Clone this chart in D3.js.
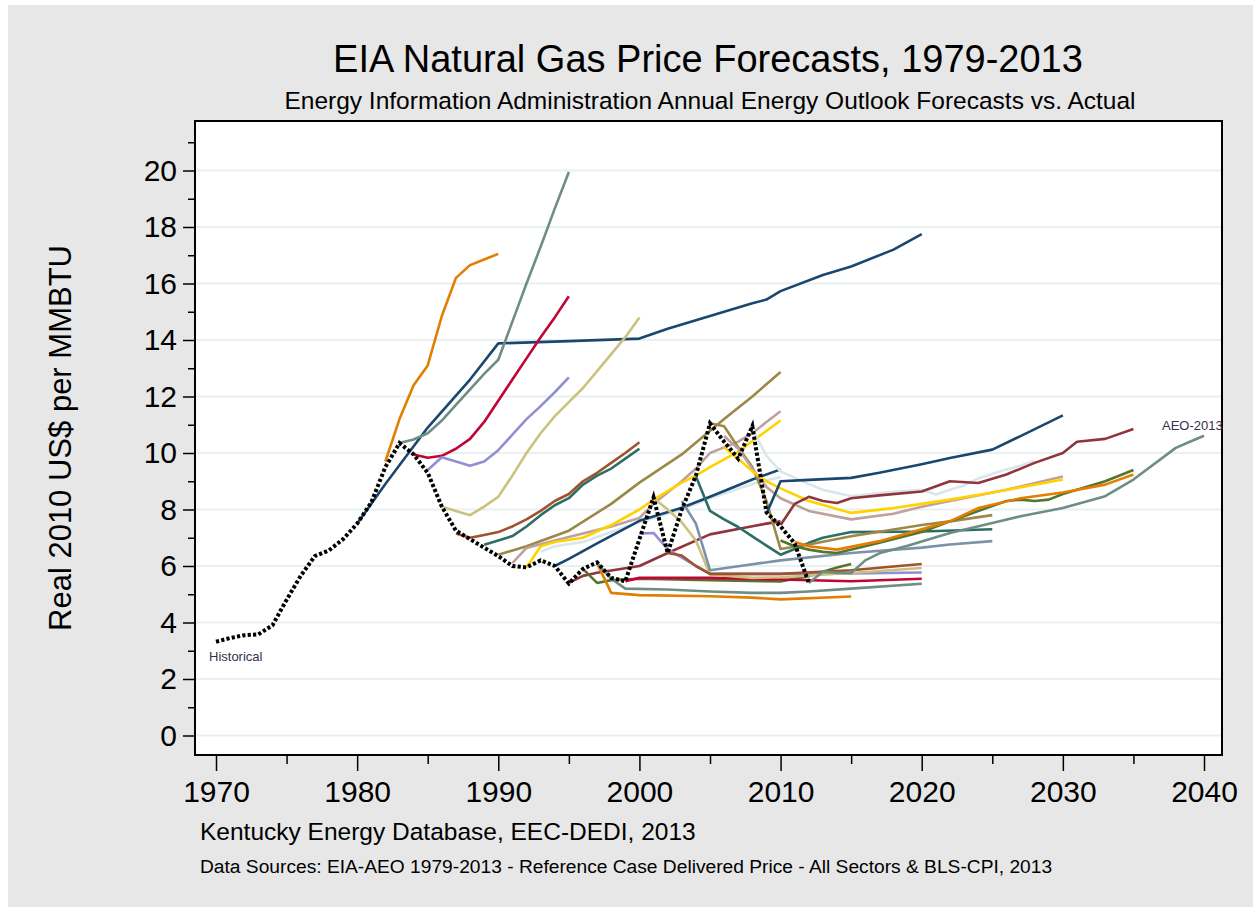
<!DOCTYPE html>
<html>
<head>
<meta charset="utf-8">
<script src="https://cdn.jsdelivr.net/npm/d3@7"></script>
<style>
  html, body { margin: 0; padding: 0; background: #ffffff; }
  svg { display: block; font-family: "Liberation Sans", Arial, sans-serif; }
</style>
</head>
<body>
<svg id="chart" width="1253" height="907"></svg>
<script>
// ---------------- DATA ----------------
const xTicksMajor = [1970, 1980, 1990, 2000, 2010, 2020, 2030, 2040];
const xTicksMinor = [1975, 1985, 1995, 2005, 2015, 2025, 2035];
const yTicksMajor = [0, 2, 4, 6, 8, 10, 12, 14, 16, 18, 20];
const yTicksMinor = [1, 3, 5, 7, 9, 11, 13, 15, 17, 19, 21];

const historical = [[1970,3.32],[1971,3.45],[1972,3.55],[1973,3.58],[1974,3.9],[1975,4.8],[1976,5.65],[1977,6.35],[1978,6.55],[1979,6.95],[1980,7.5],[1981,8.25],[1982,9.5],[1983,10.35],[1984,9.95],[1985,9.3],[1986,8.1],[1987,7.25],[1988,6.95],[1989,6.65],[1990,6.35],[1991,6.0],[1992,5.95],[1993,6.2],[1994,6.0],[1995,5.38],[1996,5.9],[1997,6.13],[1998,5.58],[1999,5.46],[2000,6.95],[2001,8.43],[2002,6.46],[2003,8.0],[2004,9.2],[2005,11.05],[2006,10.4],[2007,9.8],[2008,10.95],[2009,7.9],[2010,7.4],[2011,6.8],[2012,5.4]];

const aeo1979 = [[1980,7.5],[1982,8.9],[1985,10.9],[1988,12.6],[1990,13.88],[1995,13.96],[2000,14.05],[2002,14.4],[2005,14.85],[2008,15.3],[2009,15.43],[2010,15.73],[2013,16.3],[2015,16.6],[2018,17.2],[2020,17.75]];
const aeo1982 = [[1982,9.7],[1983,11.2],[1984,12.4],[1985,13.1],[1986,14.85],[1987,16.2],[1988,16.65],[1989,16.85],[1990,17.05]];
const aeo1983 = [[1983,10.35],[1984,10.48],[1985,10.7],[1986,11.15],[1987,11.7],[1988,12.25],[1989,12.8],[1990,13.3],[1991,14.65],[1992,16.0],[1993,17.3],[1994,18.65],[1995,19.95]];
const aeo1984 = [[1984,9.95],[1985,9.83],[1986,9.9],[1987,10.15],[1988,10.5],[1989,11.1],[1990,11.85],[1991,12.6],[1992,13.35],[1993,14.1],[1994,14.8],[1995,15.55]];
const aeo1985 = [[1985,9.4],[1986,9.85],[1987,9.7],[1988,9.55],[1989,9.7],[1990,10.1],[1991,10.65],[1992,11.2],[1993,11.66],[1994,12.15],[1995,12.68]];
const aeo1986 = [[1986,8.1],[1987,7.95],[1988,7.8],[1989,8.1],[1990,8.45],[1991,9.2],[1992,10.0],[1993,10.7],[1994,11.3],[1995,11.8],[1996,12.3],[1997,12.9],[1998,13.5],[1999,14.1],[2000,14.8]];
const aeo1987 = [[1987,7.15],[1988,7.0],[1989,7.1],[1990,7.2],[1991,7.4],[1992,7.65],[1993,7.95],[1994,8.3],[1995,8.55],[1996,9.0],[1997,9.3],[1998,9.65],[1999,10.0],[2000,10.38]];
const aeo1989 = [[1989,6.75],[1990,6.9],[1991,7.06],[1992,7.4],[1993,7.8],[1994,8.15],[1995,8.4],[1996,8.88],[1997,9.2],[1998,9.45],[1999,9.8],[2000,10.15]];
const aeo1990 = [[1990,6.4],[1992,6.7],[1995,7.25],[1998,8.2],[2000,8.95],[2003,9.95],[2006,11.2],[2008,12.0],[2010,12.87]];
const aeo1991 = [[1991,6.1],[1992,6.64],[1994,6.9],[1996,7.15],[1998,7.4],[2000,7.7],[2001,8.2],[2002,8.6],[2003,9.0],[2004,9.45],[2005,10.0],[2006,10.2],[2007,10.4],[2008,10.7],[2009,11.1],[2010,11.48]];
const aeo1992 = [[1992,5.95],[1993,6.7],[1994,6.85],[1996,7.0],[1998,7.45],[2000,8.0],[2001,8.35],[2003,8.95],[2004,9.2],[2005,9.5],[2007,10.05],[2010,11.15]];
const aeo1993 = [[1993,6.5],[1994,6.7],[1996,6.85],[1998,7.2],[2000,7.55],[2003,8.0],[2005,8.4],[2008,8.9],[2010,9.15]];
const aeo1994 = [[1994,6.0],[1995,6.25],[1997,6.8],[2000,7.6],[2003,8.06],[2005,8.45],[2008,9.06],[2010,9.42]];
const aeo1995 = [[1995,5.4],[1996,5.65],[1997,5.76],[2000,6.0],[2002,6.46],[2005,7.12],[2008,7.41],[2009,7.5],[2010,7.58]];
const aeo1996 = [[1996,5.9],[1997,5.4],[1998,5.5],[2000,5.55],[2005,5.5],[2010,5.45],[2011,5.55],[2012,5.64],[2013,5.8],[2014,5.95],[2015,6.07]];
const aeo1997 = [[1997,6.1],[1998,5.05],[2000,4.97],[2005,4.93],[2008,4.88],[2010,4.82],[2015,4.92]];
const aeo1998 = [[1997,6.1],[1998,5.55],[1999,5.2],[2002,5.17],[2005,5.1],[2008,5.05],[2010,5.05],[2012,5.1],[2015,5.2],[2020,5.37]];
const aeo1999 = [[1999,5.46],[2000,5.58],[2005,5.58],[2010,5.52],[2015,5.46],[2020,5.55]];
const aeo2000 = [[2000,7.15],[2001,7.17],[2002,6.6],[2003,6.3],[2004,6.0],[2005,5.72],[2010,5.72],[2015,5.74],[2020,5.77]];
const aeo2001 = [[2001,8.41],[2002,8.0],[2003,7.55],[2004,6.9],[2005,5.7],[2008,5.58],[2010,5.6],[2015,5.75],[2020,5.93]];
const aeo2002 = [[2002,6.46],[2003,6.37],[2004,6.0],[2005,5.72],[2010,5.72],[2015,5.85],[2020,6.07]];
const aeo2003 = [[2003,8.3],[2004,7.5],[2005,5.85],[2007,5.99],[2010,6.2],[2015,6.46],[2020,6.65],[2022,6.76],[2025,6.88]];
const aeo2004 = [[2004,9.18],[2005,7.95],[2006,7.65],[2007,7.38],[2008,7.05],[2009,6.72],[2010,6.4],[2011,6.6],[2012,6.82],[2013,7.0],[2015,7.2],[2020,7.22],[2025,7.3]];
const aeo2005 = [[2005,11.05],[2006,10.95],[2007,10.2],[2008,9.5],[2009,8.3],[2010,6.6],[2012,6.76],[2015,7.05],[2020,7.45],[2022,7.58],[2025,7.8]];
const aeo2006 = [[2006,10.6],[2007,10.15],[2008,9.45],[2009,8.8],[2010,8.4],[2012,7.95],[2015,7.65],[2018,7.85],[2020,8.1],[2022,8.3],[2026,8.7],[2030,9.17]];
const aeo2007 = [[2006,10.2],[2007,9.8],[2008,9.35],[2009,9.0],[2010,8.75],[2012,8.3],[2015,7.88],[2018,8.05],[2020,8.2],[2022,8.35],[2025,8.6],[2030,9.06]];
const aeo2008 = [[2008,10.85],[2009,9.9],[2010,9.35],[2012,8.9],[2013,8.7],[2015,8.47],[2017,8.58],[2020,8.7],[2021,8.53],[2022,8.7],[2023,8.85],[2024,9.1],[2026,9.42],[2027,9.55],[2028,9.73]];
const aeo2009 = [[2009,7.85],[2010,9.0],[2012,9.05],[2015,9.12],[2017,9.3],[2020,9.6],[2022,9.82],[2025,10.12],[2027,10.6],[2030,11.33]];
const aeo2010 = [[2010,7.45],[2011,8.2],[2012,8.45],[2013,8.3],[2014,8.23],[2015,8.4],[2017,8.5],[2020,8.64],[2022,9.0],[2024,8.94],[2026,9.24],[2028,9.65],[2030,10.0],[2031,10.4],[2033,10.5],[2035,10.85]];
const aeo2011 = [[2010,6.9],[2011,6.7],[2012,6.58],[2013,6.5],[2014,6.46],[2017,6.82],[2020,7.2],[2022,7.58],[2024,7.95],[2026,8.3],[2027,8.35],[2028,8.3],[2029,8.35],[2030,8.55],[2031,8.7],[2033,9.0],[2035,9.4]];
const aeo2012 = [[2011,6.85],[2012,6.7],[2014,6.58],[2017,6.88],[2020,7.3],[2022,7.58],[2024,8.05],[2027,8.4],[2030,8.6],[2033,8.88],[2035,9.24]];
const aeo2013 = [[2012,5.4],[2013,5.8],[2014,5.75],[2015,5.75],[2016,6.2],[2017,6.45],[2019,6.72],[2022,7.17],[2025,7.52],[2027,7.76],[2030,8.05],[2033,8.47],[2035,9.06],[2038,10.18],[2039,10.4],[2040,10.61]];

const forecasts = [aeo1979, aeo1982, aeo1983, aeo1984, aeo1985, aeo1986, aeo1987, aeo1989, aeo1990, aeo1991, aeo1992, aeo1993, aeo1994, aeo1995, aeo1996, aeo1997, aeo1998, aeo1999, aeo2000, aeo2001, aeo2002, aeo2003, aeo2004, aeo2005, aeo2006, aeo2007, aeo2008, aeo2009, aeo2010, aeo2011, aeo2012, aeo2013];
const forecastColorKeys = ["navy","dkorange","teal","cranberry","lavender","khaki","sienna","emerald","brown","erose","gold","bluishgray","navy","maroon","forest","dkorange","teal","cranberry","lavender","khaki","sienna","emidblue","emerald","brown","erose","gold","bluishgray","navy","maroon","forest","dkorange","teal"];

// ---------------- STYLE ----------------
const palette = {
  navy: "#1a476f", maroon: "#90353b", forest: "#55752f", dkorange: "#e37e00",
  teal: "#6e8e84", cranberry: "#c10534", lavender: "#938dd2", khaki: "#cac27e",
  sienna: "#a0522d", emidblue: "#7b92a8", emerald: "#2d6d66", brown: "#9c8847",
  erose: "#bfa19c", gold: "#ffd200", bluishgray: "#d9e6eb"
};

const W = 1253, H = 907;
const plot = { left: 195, right: 1222, top: 121, bottom: 755 };

const svg = d3.select("#chart");

// Backgrounds
svg.append("rect").attr("x", 0).attr("y", 0).attr("width", W).attr("height", H).attr("fill", "#ffffff");
svg.append("rect").attr("x", 8).attr("y", 5).attr("width", W - 8).attr("height", H - 5).attr("fill", "#e7e7e7");
svg.append("rect").attr("x", plot.left).attr("y", plot.top)
  .attr("width", plot.right - plot.left).attr("height", plot.bottom - plot.top).attr("fill", "#ffffff");

const x = d3.scaleLinear().domain([1970, 2040]).range([216, 1204]);
const y = d3.scaleLinear().domain([0, 20]).range([735.5, 170.5]);

// Gridlines
svg.append("g").selectAll("line").data(yTicksMajor).join("line")
  .attr("x1", plot.left).attr("x2", plot.right)
  .attr("y1", d => y(d)).attr("y2", d => y(d))
  .attr("stroke", "#e9f0f2").attr("stroke-width", 2);

// Lines
const line = d3.line().x(d => x(d[0])).y(d => y(d[1]));
const gLines = svg.append("g");
gLines.selectAll("path.fc").data(forecasts).join("path")
  .attr("class", "fc")
  .attr("d", line)
  .attr("fill", "none")
  .attr("stroke", (d, i) => palette[forecastColorKeys[i]])
  .attr("stroke-width", 2.6)
  .attr("stroke-linejoin", "round");

gLines.append("path").datum(historical)
  .attr("d", line)
  .attr("fill", "none")
  .attr("stroke", "#000")
  .attr("stroke-width", 4)
  .attr("stroke-dasharray", "3.2,2.2");

// Frame
svg.append("rect").attr("x", plot.left).attr("y", plot.top)
  .attr("width", plot.right - plot.left).attr("height", plot.bottom - plot.top)
  .attr("fill", "none").attr("stroke", "#000").attr("stroke-width", 2);

// Y axis
const yAxisMajor = d3.axisLeft(y).tickValues(yTicksMajor).tickSize(12).tickPadding(6).tickFormat(d3.format("d"));
const yAxisMinor = d3.axisLeft(y).tickValues(yTicksMinor).tickSize(7).tickFormat("");
const gy = svg.append("g").attr("transform", `translate(${plot.left},0)`).call(yAxisMajor);
const gy2 = svg.append("g").attr("transform", `translate(${plot.left},0)`).call(yAxisMinor);
[gy, gy2].forEach(g => {
  g.select(".domain").remove();
  g.selectAll(".tick line").attr("stroke", "#000").attr("stroke-width", 1.5);
});
gy.selectAll(".tick text").attr("font-size", 30).attr("fill", "#000")
  .attr("font-family", "Liberation Sans, Arial, sans-serif");

// X axis
const xAxisMajor = d3.axisBottom(x).tickValues(xTicksMajor).tickSize(16).tickPadding(10).tickFormat(d3.format("d"));
const xAxisMinor = d3.axisBottom(x).tickValues(xTicksMinor).tickSize(9).tickFormat("");
const gx = svg.append("g").attr("transform", `translate(0,${plot.bottom})`).call(xAxisMajor);
const gx2 = svg.append("g").attr("transform", `translate(0,${plot.bottom})`).call(xAxisMinor);
[gx, gx2].forEach(g => {
  g.select(".domain").remove();
  g.selectAll(".tick line").attr("stroke", "#000").attr("stroke-width", 1.5);
});
gx.selectAll(".tick text").attr("font-size", 30).attr("fill", "#000")
  .attr("font-family", "Liberation Sans, Arial, sans-serif");

// Texts
svg.append("text").attr("x", 708).attr("y", 72).attr("text-anchor", "middle")
  .attr("font-size", 38).attr("fill", "#000").text("EIA Natural Gas Price Forecasts, 1979-2013");
svg.append("text").attr("x", 710).attr("y", 109).attr("text-anchor", "middle")
  .attr("font-size", 24.5).attr("fill", "#000").text("Energy Information Administration Annual Energy Outlook Forecasts vs. Actual");
svg.append("text").attr("transform", "translate(71,438) rotate(-90)").attr("text-anchor", "middle")
  .attr("font-size", 31).attr("fill", "#000").text("Real 2010 US$ per MMBTU");
svg.append("text").attr("x", 200).attr("y", 840)
  .attr("font-size", 24.5).attr("fill", "#000").text("Kentucky Energy Database, EEC-DEDI, 2013");
svg.append("text").attr("x", 200).attr("y", 873)
  .attr("font-size", 19.2).attr("fill", "#000").text("Data Sources: EIA-AEO 1979-2013 - Reference Case Delivered Price - All Sectors & BLS-CPI, 2013");

svg.append("text").attr("x", x(historical[0][0]) - 7).attr("y", 661)
  .attr("font-size", 13).attr("fill", "#33334d").text("Historical");
svg.append("text").attr("x", x(aeo2013[aeo2013.length - 1][0]) - 42).attr("y", 430)
  .attr("font-size", 13).attr("fill", "#33334d").text("AEO-2013");
</script>
</body>
</html>
